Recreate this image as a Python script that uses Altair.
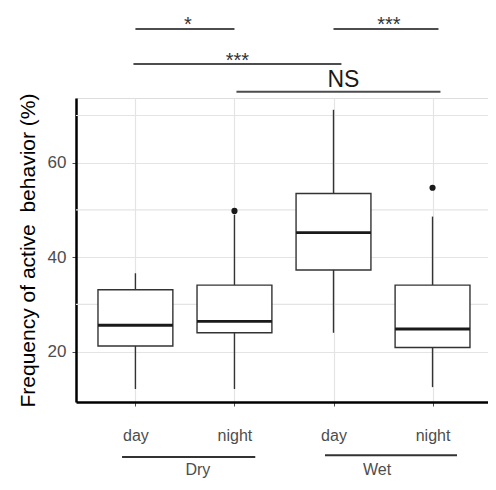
import json
import altair as alt
import pandas as pd

# ---- data ----
positions = [1, 2, 3, 4]
groups = ["Dry", "Dry", "Wet", "Wet"]
times = ["day", "night", "day", "night"]
whisker_low = [12.1, 12.1, 24.0, 12.5]
q1 = [21.2, 24.0, 37.3, 20.9]
median = [25.6, 26.4, 45.2, 24.8]
q3 = [33.1, 34.1, 53.5, 34.1]
whisker_high = [36.6, 49.0, 71.2, 48.6]

outlier_pos = [2, 4]
outlier_val = [49.8, 54.7]

y_ticks = [20, 40, 60]
y_minor = [30, 50, 70]

# significance brackets
sig_labels = ["*", "***", "***", "NS"]
sig_x1 = [1.0, 3.0, 0.98, 2.02]
sig_x2 = [2.0, 4.06, 3.08, 4.08]
sig_y = [88.3, 88.3, 80.9, 75.0]
sig_text_x = [1.53, 3.56, 2.03, 3.1]
sig_text_y = [87.9, 87.9, 80.35, 76.0]

# group labels under the axis
group_names = ["Dry", "Wet"]
group_x1 = [0.865, 2.914]
group_x2 = [2.21, 4.247]
group_line_y = [-2.3, -1.9]
group_text_x = [1.63, 3.44]
group_text_y = [-6.0, -6.0]

x_domain = [0.4, 4.56]
y_domain = [9.35, 73.7]
half_width = 0.378

FONT = "Liberation Sans"
GRID = "#e4e4e4"
LABEL = "#4d4d4d"

boxes = pd.DataFrame({
    "pos": positions, "group": groups, "time": times,
    "low": whisker_low, "q1": q1, "median": median, "q3": q3, "high": whisker_high,
})
boxes["left"] = boxes["pos"] - half_width
boxes["right"] = boxes["pos"] + half_width

outliers = pd.DataFrame({"pos": outlier_pos, "value": outlier_val})
minor = pd.DataFrame({"v": y_minor, "x1": x_domain[0], "x2": x_domain[1]})
sig = pd.DataFrame({"label": sig_labels, "x1": sig_x1, "x2": sig_x2, "y": sig_y,
                    "tx": sig_text_x, "ty": sig_text_y})
grp = pd.DataFrame({"name": group_names, "x1": group_x1, "x2": group_x2,
                    "y": group_line_y, "tx": group_text_x, "ty": group_text_y})

xscale = alt.Scale(domain=x_domain, zero=False, nice=False)
yscale = alt.Scale(domain=y_domain, zero=False, nice=False)

label_expr = "%s[datum.value - 1]" % json.dumps(times)

xaxis = alt.Axis(values=positions, labelExpr=label_expr, title=None, grid=True,
                 gridColor=GRID, gridWidth=1.2, domainColor="black", domainWidth=2.5,
                 tickColor=LABEL, tickSize=4, tickWidth=1, labelColor=LABEL,
                 labelFontSize=16, labelFont=FONT, labelPadding=21)
yaxis = alt.Axis(values=y_ticks, title="Frequency of active\u00a0 behavior (%)", grid=True,
                 gridColor=GRID, gridWidth=1.2, domainColor="black", domainWidth=2.5,
                 tickColor=LABEL, tickSize=4, tickWidth=1, labelColor=LABEL,
                 labelFontSize=17, labelFont=FONT, labelPadding=6,
                 titleFont=FONT, titleFontSize=21, titleFontWeight="normal",
                 titleColor="black", titlePadding=9)


def X(f):
    return alt.X(f, type="quantitative", scale=xscale, axis=xaxis)


def Y(f):
    return alt.Y(f, type="quantitative", scale=yscale, axis=yaxis)


minor_grid = alt.Chart(minor).mark_rule(color=GRID, strokeWidth=1.2).encode(
    x=X("x1"), x2="x2", y=Y("v"))

whisk_lo = alt.Chart(boxes).mark_rule(color="#333333", strokeWidth=1.4).encode(
    x=X("pos"), y=Y("low"), y2="q1")
whisk_hi = alt.Chart(boxes).mark_rule(color="#333333", strokeWidth=1.4).encode(
    x=X("pos"), y=Y("q3"), y2="high")
box = alt.Chart(boxes).mark_rect(fill="white", stroke="#333333", strokeWidth=1.4).encode(
    x=X("left"), x2="right", y=Y("q1"), y2="q3")
med = alt.Chart(boxes).mark_rule(color="#1a1a1a", strokeWidth=2.8).encode(
    x=X("left"), x2="right", y=Y("median"))
outl = alt.Chart(outliers).mark_circle(size=38, color="#1a1a1a", opacity=1).encode(
    x=X("pos"), y=Y("value"))

sig_rules = alt.Chart(sig).mark_rule(color="#4d4d4d", strokeWidth=2).encode(
    x=X("x1"), x2="x2", y=Y("y"))
sig_stars = alt.Chart(sig).transform_filter("datum.label != 'NS'").mark_text(
    font=FONT, fontSize=20, color="#333333", baseline="alphabetic", align="center").encode(
    x=X("tx"), y=Y("ty"), text="label:N")
sig_ns = alt.Chart(sig).transform_filter("datum.label == 'NS'").mark_text(
    font=FONT, fontSize=23, color="#1a1a1a", baseline="alphabetic", align="center").encode(
    x=X("tx"), y=Y("ty"), text="label:N")

grp_rules = alt.Chart(grp).mark_rule(color="#333333", strokeWidth=2).encode(
    x=X("x1"), x2="x2", y=Y("y"))
grp_text = alt.Chart(grp).mark_text(
    font=FONT, fontSize=16, color=LABEL, baseline="alphabetic", align="center").encode(
    x=X("tx"), y=Y("ty"), text="name:N")

chart = alt.layer(
    minor_grid, whisk_lo, whisk_hi, box, med, outl,
    sig_rules, sig_stars, sig_ns, grp_rules, grp_text,
).properties(
    width=412, height=304,
    autosize=alt.AutoSizeParams(type="none"),
    padding={"left": 68, "top": 90, "right": 0, "bottom": 76},
).configure_view(strokeWidth=0).configure(background="white")

chart.save("out.html", embed_options={"renderer": "svg", "actions": False})
